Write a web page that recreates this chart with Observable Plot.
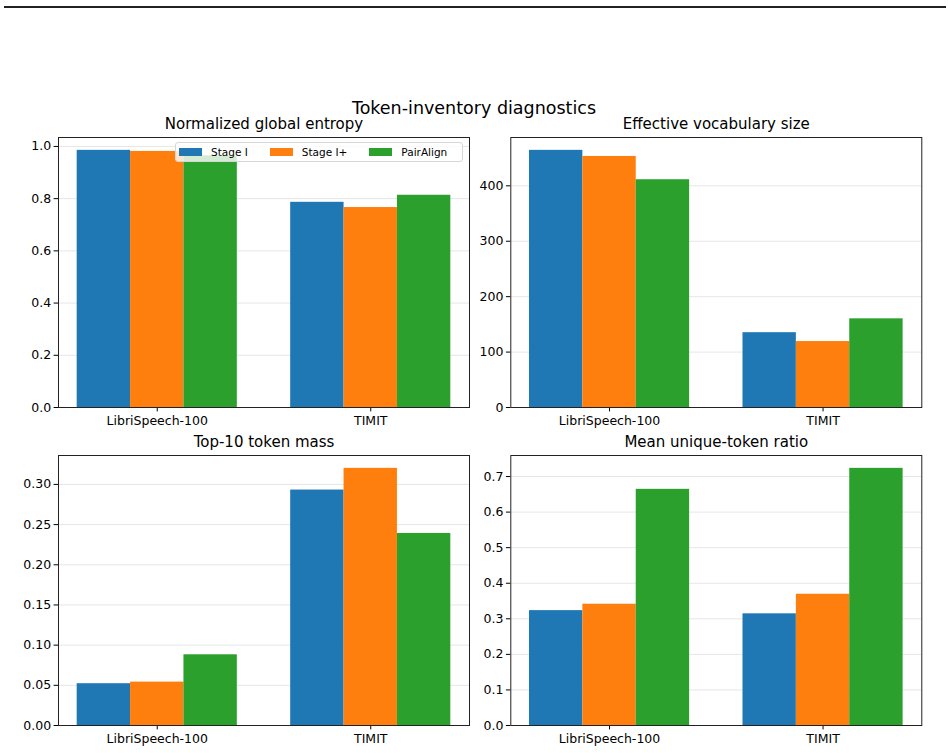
<!DOCTYPE html>
<html>
<head>
<meta charset="utf-8">
<script src="https://cdn.jsdelivr.net/npm/d3@7"></script>
<script src="https://cdn.jsdelivr.net/npm/@observablehq/plot@0.6"></script>
<style>
  body { margin: 0; background: #fff; font-family: "DejaVu Sans", sans-serif; color: #000; }
  #fig { position: relative; width: 948px; height: 753px; overflow: hidden; background: #fff; }
  .rule { position: absolute; left: 4px; right: 2px; top: 6px; height: 2px; background: #222; }
  .suptitle { position: absolute; left: 0; width: 948px; top: 97px; line-height: 22px; text-align: center; font-size: 17.5px; z-index: 3; }
  .panel { position: absolute; }
  .legend { position: absolute; left: 175px; top: 142px; width: 288px; height: 20px; box-sizing: border-box;
            background: rgba(255,255,255,0.8); border: 1px solid #d6d6d6; border-radius: 3px;
            display: flex; align-items: center; padding-left: 3px; font-size: 10.5px; z-index: 2; }
  .legend .item { display: flex; align-items: center; margin-right: 22px; }
  .legend .item:last-child { margin-right: 0; }
  .legend .sw { width: 23px; height: 8px; margin-right: 9px; }
</style>
</head>
<body>
<div id="fig">
  <div class="rule"></div>
  <div class="suptitle">Token-inventory diagnostics</div>
</div>
<script>
// Categories and series
const datasets = ["LibriSpeech-100", "TIMIT"];
const methods = ["Stage I", "Stage I+", "PairAlign"];
const colors = ["#1f77b4", "#ff7f0e", "#2ca02c"];

// Values per method, ordered as [LibriSpeech-100, TIMIT]
const entropyStageI    = [0.985, 0.786];
const entropyStageIP   = [0.981, 0.766];
const entropyPairAlign = [0.964, 0.813];

const vocabStageI    = [464, 135];
const vocabStageIP   = [453, 119];
const vocabPairAlign = [411, 160];

const top10StageI    = [0.052, 0.293];
const top10StageIP   = [0.054, 0.320];
const top10PairAlign = [0.088, 0.239];

const uniqueStageI    = [0.323, 0.314];
const uniqueStageIP   = [0.341, 0.369];
const uniquePairAlign = [0.664, 0.723];

// Tick values per panel
const entropyTicks = [0, 0.2, 0.4, 0.6, 0.8, 1.0];
const vocabTicks = [0, 100, 200, 300, 400];
const top10Ticks = [0, 0.05, 0.10, 0.15, 0.20, 0.25, 0.30];
const uniqueTicks = [0, 0.1, 0.2, 0.3, 0.4, 0.5, 0.6, 0.7];

const barWidth = 0.25;

function rowsFor(series) {
  const rows = [];
  series.forEach((vals, j) => {
    vals.forEach((v, i) => {
      const center = i + (j - 1) * barWidth;
      rows.push({ dataset: datasets[i], method: methods[j], value: v,
                  x1: center - barWidth / 2, x2: center + barWidth / 2 });
    });
  });
  return rows;
}

function panel({ title, series, ticks, fmt, left, top, width, height, margins }) {
  const rows = rowsFor(series);
  const ymax = d3.max(rows, d => d.value) * 1.05;
  const xmin = -0.375 - 0.0875, xmax = 1.375 + 0.0875;
  const chart = Plot.plot({
    width, height,
    marginLeft: margins[0], marginRight: margins[1], marginTop: margins[2], marginBottom: margins[3],
    style: { fontFamily: "DejaVu Sans, sans-serif", fontSize: "12.5px", color: "#000", background: "transparent", overflow: "visible" },
    x: { type: "linear", domain: [xmin, xmax], axis: null },
    y: { domain: [0, ymax], axis: null },
    color: { domain: methods, range: colors },
    marks: [
      Plot.gridY(ticks, { stroke: "#e6e6e6", strokeOpacity: 1, strokeWidth: 1 }),
      Plot.rectY(rows, { x1: "x1", x2: "x2", y: "value", fill: "method", inset: 0 }),
      Plot.axisY(ticks, { tickSize: 4.4, tickPadding: 3, tickFormat: fmt, fontSize: 12.5, label: null }),
      Plot.axisX([0, 1], { tickSize: 4.4, tickPadding: 4, tickFormat: i => datasets[i], fontSize: 12.5, label: null }),
      Plot.frame({ stroke: "#222", strokeWidth: 1 }),
      Plot.text([title], { text: d => d, frameAnchor: "top", lineAnchor: "middle", dy: -13, fontSize: 15, fill: "#000" })
    ]
  });
  chart.classList.add("panel");
  chart.style.left = left + "px";
  chart.style.top = top + "px";
  document.getElementById("fig").appendChild(chart);
}

panel({ title: "Normalized global entropy",
        series: [entropyStageI, entropyStageIP, entropyPairAlign],
        ticks: entropyTicks, fmt: d3.format(".1f"),
        left: 0, top: 112, width: 474, height: 320, margins: [58, 5, 25, 25] });

panel({ title: "Effective vocabulary size",
        series: [vocabStageI, vocabStageIP, vocabPairAlign],
        ticks: vocabTicks, fmt: d3.format("d"),
        left: 474, top: 112, width: 474, height: 320, margins: [36.3, 26.7, 25, 25] });

panel({ title: "Top-10 token mass",
        series: [top10StageI, top10StageIP, top10PairAlign],
        ticks: top10Ticks, fmt: d3.format(".2f"),
        left: 0, top: 430, width: 474, height: 323, margins: [58, 5, 25, 28] });

panel({ title: "Mean unique-token ratio",
        series: [uniqueStageI, uniqueStageIP, uniquePairAlign],
        ticks: uniqueTicks, fmt: d3.format(".1f"),
        left: 474, top: 430, width: 474, height: 323, margins: [36.3, 26.7, 25, 28] });

// Legend for the three methods, over the first panel
const legend = document.createElement("div");
legend.className = "legend";
methods.forEach((m, j) => {
  const item = document.createElement("div");
  item.className = "item";
  const sw = document.createElement("div");
  sw.className = "sw";
  sw.style.background = colors[j];
  const label = document.createElement("span");
  label.textContent = m;
  item.appendChild(sw);
  item.appendChild(label);
  legend.appendChild(item);
});
document.getElementById("fig").appendChild(legend);
</script>
</body>
</html>
